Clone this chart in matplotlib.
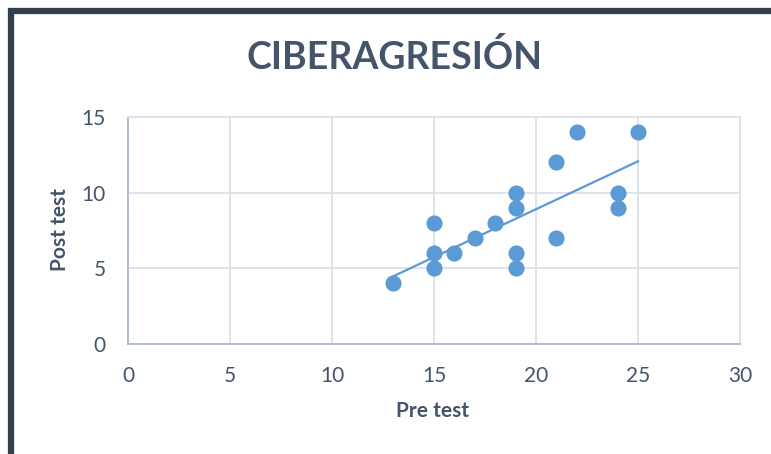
"""Scatter of pre/post test scores for ciberagresion, with linear trendline."""

import matplotlib
matplotlib.use("Agg")
import matplotlib.pyplot as plt
import numpy as np
from matplotlib.patches import Rectangle

pre_test = [13, 15, 15, 15, 16, 17, 18, 19, 19, 19, 19, 21, 21, 22, 24, 24, 25]
post_test = [4, 8, 6, 5, 6, 7, 8, 10, 9, 6, 5, 12, 7, 14, 10, 9, 14]
x_ticks = [0, 5, 10, 15, 20, 25, 30]
y_ticks = [0, 5, 10, 15]

plt.rcParams["font.family"] = ["Lato", "DejaVu Sans"]
text_color = "#44546a"
dot_color = "#5b9bd5"

fig = plt.figure(figsize=(7.71, 4.54), dpi=100)
ax = fig.add_axes([128 / 771, 1 - 344 / 454, 612 / 771, 227 / 454])

ax.scatter(pre_test, post_test, s=135, color=dot_color, zorder=3, linewidths=0)

# linear trendline over the data range
k, b = np.polyfit(pre_test, post_test, 1)
xs = np.array([min(pre_test), max(pre_test)])
ax.plot(xs, k * xs + b, color=dot_color, lw=1.6, zorder=2)

ax.set_xlim(0, 30)
ax.set_ylim(0, 15)
ax.set_xticks(x_ticks)
ax.set_yticks(y_ticks)
ax.grid(True, color="#dde2e8", lw=1.3)
ax.set_axisbelow(True)
ax.tick_params(length=0, labelsize=15, colors=text_color)
ax.tick_params(axis="x", pad=16)
ax.tick_params(axis="y", pad=16)
for side in ("top", "right"):
    ax.spines[side].set_color("#dde2e8")
    ax.spines[side].set_linewidth(1.3)
for side in ("left", "bottom"):
    ax.spines[side].set_color("#adb9ca")
    ax.spines[side].set_linewidth(1.3)

ax.set_xlabel("Pre test", fontsize=15, fontweight="bold", color=text_color, va="center")
ax.set_ylabel("Post test", fontsize=15, fontweight="bold", color=text_color, va="center")
ax.xaxis.set_label_coords(432 / 771, 1 - 411 / 454, transform=fig.transFigure)
ax.yaxis.set_label_coords(60 / 771, 1 - 230 / 454, transform=fig.transFigure)
fig.text(395 / 771, 1 - 57 / 454, "CIBERAGRESIÓN", fontsize=27, fontweight="bold",
         color=text_color, ha="center", va="center")

# dark outer frame, cut off at right and bottom
fig.add_artist(Rectangle((11 / 771, -0.2), 1.2, 1.2 - 11 / 454,
                         transform=fig.transFigure, fill=False,
                         edgecolor="#333f50", lw=4.5, clip_on=False))

fig.savefig("out.png", dpi=100)
